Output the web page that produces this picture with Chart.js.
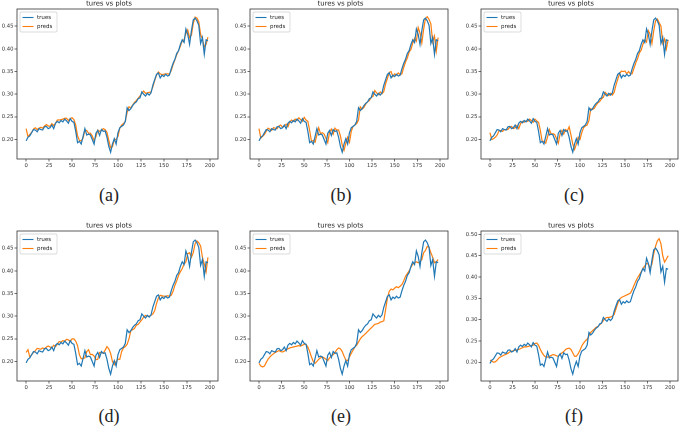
<!DOCTYPE html>
<html><head><meta charset="utf-8">
<script src="https://cdn.jsdelivr.net/npm/chart.js@4"></script>
<style>
html,body{margin:0;padding:0;background:#fff;width:685px;height:426px;overflow:hidden;position:relative}
canvas{position:absolute}
.cap{position:absolute;font-family:"Liberation Serif","Times New Roman","DejaVu Serif",serif;font-size:18px;color:#222;transform:translate(-50%,-50%);white-space:nowrap}
</style></head>
<body>
<script>
const steps=[0,2,4,6,8,10,12,14,16,18,20,22,24,26,28,30,32,34,36,38,40,42,44,46,48,50,52,54,56,58,60,62,64,66,68,70,72,74,76,78,80,82,84,86,88,90,92,94,96,98,100,102,104,106,108,110,112,114,116,118,120,122,124,126,128,130,132,134,136,138,140,142,144,146,148,150,152,154,156,158,160,162,164,166,168,170,172,174,176,178,180,182,184,186,188,190,192,194,196,198];
const trues=[0.197,0.205,0.208,0.215,0.222,0.221,0.217,0.224,0.222,0.221,0.228,0.229,0.224,0.226,0.232,0.224,0.236,0.240,0.237,0.242,0.239,0.245,0.241,0.236,0.246,0.240,0.238,0.218,0.193,0.196,0.190,0.207,0.224,0.210,0.212,0.210,0.200,0.190,0.214,0.220,0.209,0.222,0.218,0.219,0.205,0.185,0.172,0.190,0.202,0.190,0.215,0.226,0.229,0.232,0.240,0.270,0.264,0.268,0.275,0.280,0.283,0.290,0.292,0.305,0.300,0.296,0.302,0.298,0.303,0.320,0.332,0.344,0.347,0.336,0.342,0.339,0.344,0.340,0.342,0.356,0.368,0.377,0.390,0.396,0.410,0.420,0.414,0.444,0.432,0.410,0.440,0.464,0.468,0.462,0.452,0.412,0.425,0.388,0.420,0.418];
const predsA=[0.224,0.206,0.211,0.216,0.223,0.226,0.222,0.225,0.227,0.225,0.230,0.233,0.230,0.229,0.235,0.231,0.236,0.243,0.243,0.244,0.245,0.247,0.247,0.242,0.246,0.248,0.244,0.232,0.208,0.198,0.197,0.203,0.220,0.220,0.214,0.214,0.208,0.198,0.206,0.221,0.218,0.220,0.224,0.222,0.216,0.198,0.182,0.184,0.200,0.200,0.207,0.225,0.232,0.235,0.240,0.260,0.272,0.270,0.276,0.282,0.286,0.291,0.296,0.302,0.307,0.302,0.303,0.304,0.305,0.316,0.330,0.342,0.349,0.345,0.343,0.344,0.345,0.345,0.344,0.352,0.365,0.376,0.387,0.396,0.406,0.418,0.420,0.434,0.442,0.425,0.430,0.456,0.470,0.468,0.460,0.432,0.422,0.405,0.410,0.426];
const predsB=[0.224,0.203,0.207,0.211,0.218,0.225,0.223,0.220,0.226,0.225,0.224,0.230,0.232,0.227,0.229,0.234,0.228,0.239,0.243,0.240,0.245,0.242,0.248,0.244,0.240,0.249,0.243,0.240,0.220,0.196,0.198,0.194,0.210,0.226,0.213,0.215,0.212,0.203,0.193,0.217,0.223,0.212,0.225,0.221,0.221,0.208,0.188,0.176,0.192,0.205,0.194,0.218,0.229,0.232,0.235,0.243,0.272,0.267,0.271,0.278,0.283,0.286,0.293,0.295,0.308,0.303,0.299,0.305,0.301,0.306,0.323,0.335,0.348,0.350,0.339,0.345,0.342,0.347,0.343,0.345,0.359,0.371,0.380,0.393,0.399,0.413,0.423,0.417,0.447,0.435,0.413,0.443,0.467,0.471,0.465,0.455,0.415,0.428,0.395,0.425];
const predsC=[0.215,0.200,0.202,0.205,0.210,0.219,0.220,0.218,0.222,0.222,0.222,0.227,0.229,0.224,0.226,0.231,0.224,0.235,0.240,0.238,0.241,0.240,0.245,0.242,0.238,0.245,0.241,0.238,0.220,0.196,0.196,0.192,0.206,0.222,0.212,0.213,0.211,0.202,0.192,0.213,0.220,0.212,0.222,0.219,0.228,0.210,0.190,0.178,0.190,0.205,0.200,0.215,0.226,0.230,0.232,0.242,0.268,0.266,0.269,0.276,0.281,0.284,0.290,0.293,0.304,0.300,0.297,0.302,0.298,0.304,0.320,0.333,0.345,0.351,0.350,0.351,0.345,0.350,0.345,0.345,0.357,0.369,0.378,0.391,0.397,0.410,0.420,0.415,0.440,0.432,0.412,0.440,0.462,0.466,0.458,0.450,0.412,0.422,0.400,0.420];
const predsD=[0.220,0.226,0.210,0.215,0.220,0.224,0.229,0.228,0.227,0.230,0.228,0.232,0.234,0.232,0.230,0.236,0.233,0.238,0.244,0.243,0.246,0.245,0.249,0.248,0.244,0.250,0.250,0.245,0.235,0.215,0.206,0.207,0.208,0.222,0.226,0.215,0.216,0.212,0.204,0.205,0.220,0.220,0.218,0.225,0.233,0.228,0.218,0.200,0.193,0.200,0.205,0.205,0.222,0.230,0.233,0.238,0.250,0.268,0.270,0.273,0.280,0.282,0.287,0.292,0.298,0.302,0.300,0.300,0.302,0.305,0.312,0.328,0.340,0.346,0.345,0.344,0.344,0.345,0.344,0.346,0.355,0.368,0.378,0.390,0.398,0.405,0.415,0.420,0.438,0.440,0.430,0.440,0.460,0.466,0.462,0.455,0.430,0.415,0.398,0.430];
const predsE=[0.196,0.190,0.188,0.190,0.198,0.205,0.210,0.214,0.217,0.220,0.222,0.224,0.222,0.221,0.223,0.226,0.228,0.230,0.231,0.232,0.233,0.234,0.235,0.234,0.236,0.238,0.238,0.232,0.222,0.210,0.200,0.196,0.200,0.205,0.208,0.210,0.208,0.205,0.202,0.208,0.212,0.215,0.220,0.226,0.230,0.228,0.222,0.212,0.203,0.202,0.210,0.218,0.225,0.232,0.236,0.243,0.250,0.255,0.258,0.262,0.266,0.270,0.274,0.278,0.282,0.283,0.284,0.287,0.288,0.290,0.315,0.340,0.355,0.360,0.358,0.362,0.365,0.363,0.366,0.370,0.378,0.388,0.394,0.400,0.408,0.415,0.418,0.420,0.418,0.420,0.425,0.440,0.445,0.454,0.452,0.440,0.430,0.418,0.420,0.425];
const predsF=[0.205,0.203,0.200,0.201,0.205,0.210,0.213,0.215,0.217,0.219,0.221,0.224,0.226,0.227,0.228,0.229,0.230,0.232,0.234,0.236,0.236,0.237,0.238,0.239,0.240,0.244,0.245,0.240,0.230,0.222,0.216,0.212,0.212,0.214,0.216,0.218,0.217,0.215,0.214,0.218,0.222,0.225,0.230,0.232,0.233,0.230,0.222,0.214,0.214,0.220,0.228,0.238,0.245,0.250,0.254,0.262,0.270,0.274,0.278,0.282,0.284,0.288,0.292,0.298,0.303,0.305,0.305,0.306,0.308,0.312,0.325,0.338,0.348,0.352,0.354,0.356,0.358,0.360,0.362,0.370,0.380,0.390,0.398,0.405,0.412,0.420,0.426,0.432,0.430,0.422,0.430,0.455,0.472,0.485,0.490,0.478,0.450,0.435,0.442,0.450];
const xTicks=[0,25,50,75,100,125,150,175,200];
const yTicks=[0.20,0.25,0.30,0.35,0.40,0.45];
const yTicksF=[0.20,0.25,0.30,0.35,0.40,0.45,0.50];
const seriesNames=['trues','preds'];
const titleText='tures vs plots';
const captions=['(a)','(b)','(c)','(d)','(e)','(f)'];

const panels=[
 {preds:predsA,left:17,top:9,w:201,ymin:0.157,ymax:0.488,yt:yTicks,cx:109,cy:195},
 {preds:predsB,left:250,top:9,w:198,ymin:0.157,ymax:0.488,yt:yTicks,cx:341,cy:195},
 {preds:predsC,left:481,top:9,w:197,ymin:0.157,ymax:0.488,yt:yTicks,cx:574,cy:195},
 {preds:predsD,left:17,top:231,w:201,ymin:0.157,ymax:0.488,yt:yTicks,cx:109,cy:416},
 {preds:predsE,left:250,top:231,w:198,ymin:0.157,ymax:0.488,yt:yTicks,cx:341,cy:416},
 {preds:predsF,left:481,top:231,w:197,ymin:0.156,ymax:0.508,yt:yTicksF,cx:574,cy:416}
];
const PH=150, YW=17, TH=9, XH=12, RP=6;
const fam='"DejaVu Sans", sans-serif';

const framePlugin={id:'frame',afterDatasetsDraw(chart){
  const a=chart.chartArea,ctx=chart.ctx;
  ctx.save();
  ctx.strokeStyle='#333';ctx.lineWidth=0.8;
  ctx.strokeRect(a.left,a.top,a.right-a.left,a.bottom-a.top);
  const bx=a.left+3,by=a.top+3,bw=37,bh=20;
  ctx.fillStyle='rgba(255,255,255,0.8)';
  ctx.strokeStyle='#d0d0d0';ctx.lineWidth=0.7;
  ctx.beginPath();ctx.roundRect(bx,by,bw,bh,1.5);ctx.fill();ctx.stroke();
  ctx.font='5.5px '+fam;ctx.textBaseline='middle';ctx.fillStyle='#222';
  chart.data.datasets.forEach((ds,i)=>{
    const yy=by+5.5+i*9;
    ctx.strokeStyle=ds.borderColor;ctx.lineWidth=1.1;
    ctx.beginPath();ctx.moveTo(bx+2.5,yy);ctx.lineTo(bx+13.5,yy);ctx.stroke();
    ctx.fillText(ds.label,bx+17,yy);
  });
  ctx.restore();
}};

panels.forEach((p,k)=>{
  const cw=YW+p.w+RP, ch=TH+PH+XH;
  const cv=document.createElement('canvas');
  cv.width=cw;cv.height=ch;
  cv.style.left=(p.left-YW)+'px';cv.style.top=(p.top-TH)+'px';
  cv.style.width=cw+'px';cv.style.height=ch+'px';
  document.body.appendChild(cv);
  const cap=document.createElement('div');
  cap.className='cap';cap.textContent=captions[k];
  cap.style.left=p.cx+'px';cap.style.top=p.cy+'px';
  document.body.appendChild(cap);
  new Chart(cv,{
    type:'line',
    data:{datasets:[
      {label:seriesNames[0],data:steps.map((x,i)=>({x:x,y:trues[i]})),borderColor:'#1f77b4',borderWidth:1.2,pointRadius:0,tension:0,fill:false},
      {label:seriesNames[1],data:steps.map((x,i)=>({x:x,y:p.preds[i]})),borderColor:'#ff7f0e',borderWidth:1.2,pointRadius:0,tension:0,fill:false}
    ]},
    options:{
      responsive:false,animation:false,devicePixelRatio:2,
      layout:{padding:{left:0,right:RP,top:0,bottom:0}},
      plugins:{legend:{display:false},tooltip:{enabled:false},
        title:{display:true,text:titleText,color:'#222',font:{family:fam,size:6.8,weight:'normal',lineHeight:1},padding:{top:0.5,bottom:1.7}}},
      scales:{
        x:{type:'linear',min:-9.95,max:208.95,
          afterBuildTicks:s=>{s.ticks=xTicks.map(v=>({value:v}));},
          afterFit:s=>{s.height=XH;},
          border:{display:false},
          grid:{display:true,drawOnChartArea:false,drawTicks:true,tickLength:2.5,color:'#333',lineWidth:0.7},
          ticks:{color:'#333',font:{family:fam,size:5.3},padding:1,maxRotation:0,autoSkip:false,callback:v=>String(v)}},
        y:{type:'linear',min:p.ymin,max:p.ymax,
          afterBuildTicks:s=>{s.ticks=p.yt.map(v=>({value:v}));},
          afterFit:s=>{s.width=YW;},
          border:{display:false},
          grid:{display:true,drawOnChartArea:false,drawTicks:true,tickLength:2.5,color:'#333',lineWidth:0.7},
          ticks:{color:'#333',font:{family:fam,size:5.3},padding:1,autoSkip:false,callback:v=>Number(v).toFixed(2)}}
      }
    },
    plugins:[framePlugin]
  });
});
</script>
</body></html>
